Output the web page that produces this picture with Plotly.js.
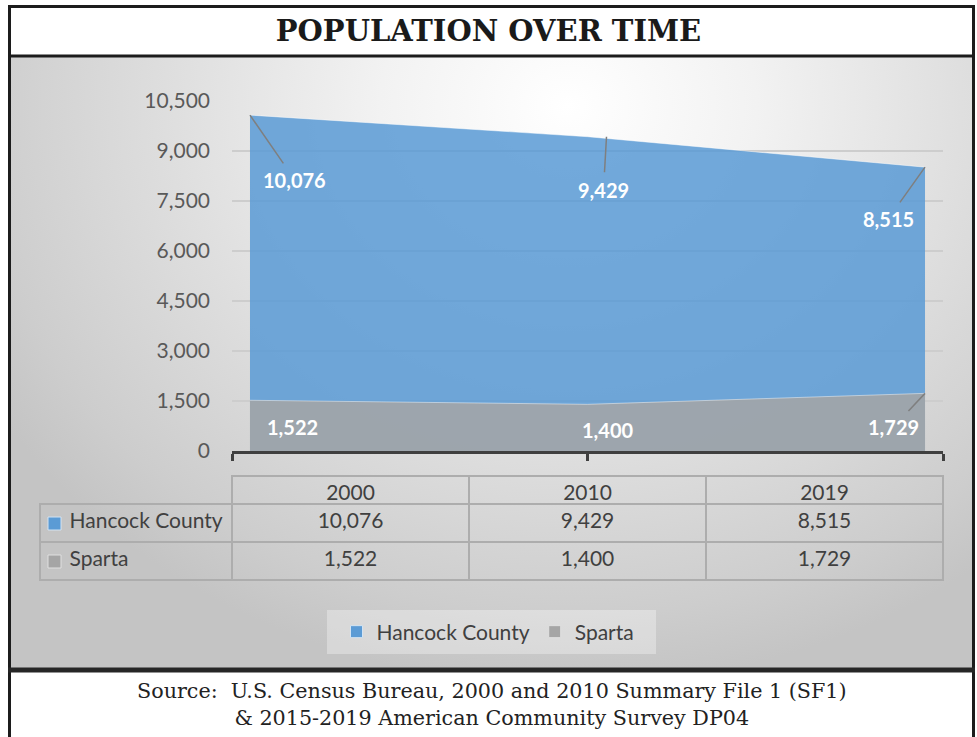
<!DOCTYPE html>
<html><head><meta charset="utf-8">
<script src="https://cdn.plot.ly/plotly-3.0.1.min.js"></script>
<style>
html,body{margin:0;padding:0;background:#fff;}
#wrap{position:relative;width:977px;height:737px;overflow:hidden;background:#fff;}
#bg{position:absolute;left:11px;top:57px;width:961px;height:611px;
 background:radial-gradient(ellipse 70% 95% at 58% 8%, #ffffff 0%, #f2f2f2 28%, #dedede 60%, #cdcdcd 88%, #c4c4c4 100%);}
#chart{position:absolute;left:0;top:0;width:977px;height:737px;}
</style></head><body>
<div id="wrap"><div id="bg"></div><div id="chart"></div></div>
<script>
// ---- data ----
const years = ['2000', '2010', '2019'];
const seriesNames = ['Hancock County', 'Sparta'];
const hancock = [10076, 9429, 8515];
const sparta = [1522, 1400, 1729];
const titleText = 'POPULATION OVER TIME';
const sourceLines = ['Source:\u00a0 U.S. Census Bureau, 2000 and 2010 Summary File 1 (SF1)', '&amp; 2015-2019 American Community Survey DP04'];

// ---- styles ----
const W = 977, H = 737;
const px = x => x / W;
const py = y => 1 - y / H;
const blue = 'rgba(91,155,213,0.86)';
const gray = 'rgba(165,165,165,0.86)';
const swatchBlue = '#5b9bd5';
const swatchGray = '#a5a5a5';
const swatchColors = [swatchBlue, swatchGray];
const swatchEdges = ['#d3e3f2', '#e0e0e0'];
const FONT = 'Lato, Carlito, "Open Sans", sans-serif';
const textCol = '#404040';
// label offsets (pixels) [dx, dy, showLeader, xshift]
const hancockLabelStyle = [[45, 65, true, 0], [-3, 53, true, 19], [-37, 52, true, 0]];
const spartaLabelStyle = [[43, 27, false, 0], [20, 26, false, 0], [-32, 34, true, 0]];
// table geometry (pixels)
const tableLeft = 40, tableRight = 943, tableTop = 476, headerH = 28, rowH = 38;

const fmt = v => v.toLocaleString('en-US');
const idx = years.map((_, i) => i);
const pad = 0.0533;
const indent = '\u00a0\u00a0\u00a0\u00a0';
const noWrap = s => s.replace(/ /g, '\u00a0');

const traces = [
  {type: 'scatter', x: idx, y: hancock, mode: 'lines', fill: 'tozeroy', fillcolor: blue,
   line: {color: 'rgba(255,255,255,0.45)', width: 1}, showlegend: false, hoverinfo: 'skip'},
  {type: 'scatter', x: idx, y: sparta, mode: 'lines', fill: 'tozeroy', fillcolor: gray,
   line: {color: 'rgba(255,255,255,0.45)', width: 1}, showlegend: false, hoverinfo: 'skip'},
  {type: 'scatter', x: [null], y: [null], mode: 'markers', name: seriesNames[0],
   marker: {symbol: 'square', size: 12, color: swatchBlue, line: {color: swatchEdges[0], width: 1}}},
  {type: 'scatter', x: [null], y: [null], mode: 'markers', name: seriesNames[1],
   marker: {symbol: 'square', size: 12, color: swatchGray, line: {color: swatchEdges[1], width: 1}}},
  {type: 'table',
   domain: {x: [px(tableLeft), px(tableRight)], y: [py(tableTop + headerH + 2 * rowH + 14), py(tableTop)]},
   columnwidth: [192, 237, 237, 237],
   header: {values: [''].concat(years), align: 'center', height: headerH,
     line: {color: ['rgba(0,0,0,0)', '#adadad', '#adadad', '#adadad'], width: 2},
     fill: {color: 'rgba(0,0,0,0)'}, font: {family: FONT, size: 21, color: textCol}},
   cells: {values: [seriesNames.map(n => indent + noWrap(n))]
       .concat(years.map((_, i) => [fmt(hancock[i]), fmt(sparta[i])])),
     align: ['left', 'center', 'center', 'center'], height: rowH,
     line: {color: '#adadad', width: 2}, fill: {color: 'rgba(0,0,0,0)'},
     font: {family: FONT, size: 21, color: textCol}}
  }
];

const annotations = [];
function addLabels(vals, styles) {
  vals.forEach((v, i) => {
    const s = styles[i];
    annotations.push({x: idx[i], y: v, xref: 'x', yref: 'y', text: fmt(v),
      showarrow: true, ax: s[0], ay: s[1], xshift: s[3],
      arrowhead: 0, arrowwidth: 1.5, arrowcolor: s[2] ? '#7f7f7f' : 'rgba(0,0,0,0)',
      standoff: 0, startstandoff: 4,
      font: {family: FONT, size: 20, color: '#ffffff', weight: 'bold'}});
  });
}
addLabels(hancock, hancockLabelStyle);
addLabels(sparta, spartaLabelStyle);
annotations.push({xref: 'paper', yref: 'paper', x: px(492), y: py(704), xanchor: 'center', yanchor: 'middle',
  text: sourceLines.join('<br>'), showarrow: false, align: 'center',
  font: {family: '"DejaVu Serif", serif', size: 20.7, color: '#222222'}});

const dark = '#1c1c1c';
const shapes = [
  {type: 'rect', xref: 'paper', yref: 'paper', x0: px(327), x1: px(656), y0: py(654), y1: py(610),
   fillcolor: 'rgba(255,255,255,0.32)', line: {width: 0}, layer: 'below'},
  {type: 'line', xref: 'paper', yref: 'paper', x0: px(9.5), x1: px(9.5), y0: py(5), y1: py(740), line: {color: dark, width: 3}},
  {type: 'line', xref: 'paper', yref: 'paper', x0: px(973.5), x1: px(973.5), y0: py(5), y1: py(740), line: {color: dark, width: 3}},
  {type: 'line', xref: 'paper', yref: 'paper', x0: px(8), x1: px(975), y0: py(6.5), y1: py(6.5), line: {color: dark, width: 3}},
  {type: 'line', xref: 'paper', yref: 'paper', x0: px(8), x1: px(975), y0: py(56), y1: py(56), line: {color: dark, width: 3}},
  {type: 'line', xref: 'paper', yref: 'paper', x0: px(8), x1: px(975), y0: py(670), y1: py(670), line: {color: '#262626', width: 5}}
];
// table row swatches (legend keys inside the first column)
seriesNames.forEach((_, r) => {
  const cy = tableTop + headerH + rowH * r + rowH / 2 + 0.5;
  shapes.push({type: 'rect', xref: 'paper', yref: 'paper', x0: px(48), x1: px(61), y0: py(cy + 6.5), y1: py(cy - 6.5),
    fillcolor: swatchColors[r], line: {color: swatchEdges[r], width: 1}});
});

const layout = {
  width: W, height: H,
  margin: {l: 0, r: 0, t: 0, b: 0, pad: 0},
  paper_bgcolor: 'rgba(0,0,0,0)', plot_bgcolor: 'rgba(0,0,0,0)',
  showlegend: true,
  title: {text: titleText, x: 0.5, xanchor: 'center', xref: 'paper', y: py(31), yanchor: 'middle', yref: 'container',
    font: {family: '"DejaVu Serif", serif', size: 29, color: '#1a1a1a', weight: 'bold'}},
  xaxis: {domain: [px(232), px(943)], range: [-pad, idx.length - 1 + pad], showgrid: false, zeroline: false,
    showline: true, linecolor: '#3f3f3f', linewidth: 3,
    tickmode: 'array', tickvals: [-pad, (idx.length - 1) / 2, idx.length - 1 + pad], ticktext: ['', '', ''],
    ticks: 'outside', ticklen: 7, tickwidth: 3, tickcolor: '#3f3f3f', fixedrange: true},
  yaxis: {domain: [py(451), py(101)], range: [0, 10500], tick0: 0, dtick: 1500, tickformat: ',d',
    showgrid: true, gridcolor: '#cdcdcd', gridwidth: 1.5, zeroline: false, showline: false,
    ticks: '', ticklabelstandoff: 21, tickfont: {family: FONT, size: 21, color: '#595959'}, fixedrange: true},
  legend: {orientation: 'h', x: px(488), y: py(632), xanchor: 'center', yanchor: 'middle',
    bgcolor: 'rgba(0,0,0,0)', font: {family: FONT, size: 21, color: textCol}, itemclick: false, itemdoubleclick: false},
  annotations: annotations,
  shapes: shapes
};

Plotly.newPlot('chart', traces, layout, {displayModeBar: false, staticPlot: true});
</script>
</body></html>
